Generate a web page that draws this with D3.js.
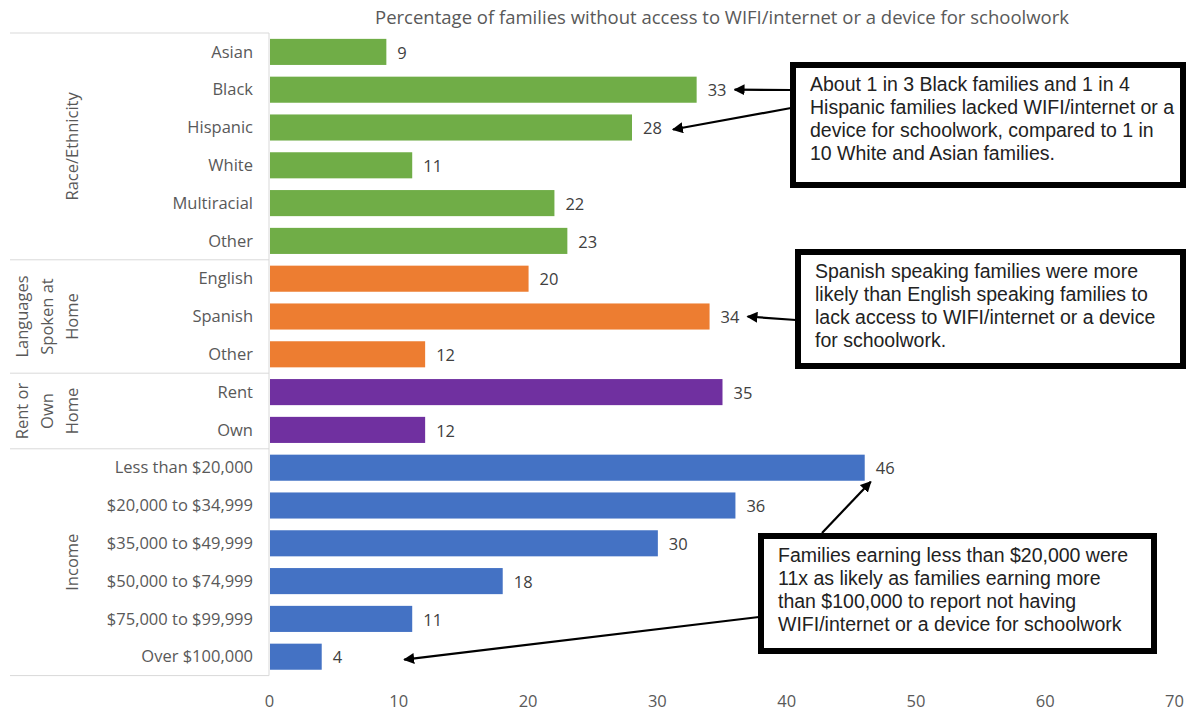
<!DOCTYPE html>
<html>
<head>
<meta charset="utf-8">
<script src="https://cdn.jsdelivr.net/npm/d3@7.9.0/dist/d3.min.js"></script>
<style>
  body { margin: 0; background: #fff; }
  svg text { font-family: 'Open Sans', sans-serif; }
  .note text { font-family: 'Liberation Sans', Arial, sans-serif; }
</style>
</head>
<body>
<svg id="chart" width="1189" height="715"></svg>
<script>
// data
const categories = ['Asian', 'Black', 'Hispanic', 'White', 'Multiracial', 'Other',
  'English', 'Spanish', 'Other ',
  'Rent', 'Own',
  'Less than $20,000', '$20,000 to $34,999', '$35,000 to $49,999', '$50,000 to $74,999', '$75,000 to $99,999', 'Over $100,000'];
const values = [9, 33, 28, 11, 22, 23, 20, 34, 12, 35, 12, 46, 36, 30, 18, 11, 4];
const groupLines = [['Race/Ethnicity'], ['Languages', 'Spoken at', 'Home'], ['Rent or', 'Own', 'Home'], ['Income']];
const groupSizes = [6, 3, 2, 6];
const groupColors = ['#70ad47', '#ed7d31', '#7030a0', '#4472c4'];
const xTicks = [0, 10, 20, 30, 40, 50, 60, 70];
const title = 'Percentage of families without access to WIFI/internet or a device for schoolwork';

// annotation boxes, outer edges [left, top, right, bottom]
const notes = [
  { lines: ['About 1 in 3 Black families and 1 in 4', 'Hispanic families lacked WIFI/internet or a',
            'device for schoolwork, compared to 1 in', '10 White and Asian families.'],
    box: [790, 62, 1186, 188] },
  { lines: ['Spanish speaking families were more', 'likely than English speaking families to',
            'lack access to WIFI/internet or a device', 'for schoolwork.'],
    box: [795, 249, 1186, 369] },
  { lines: ['Families earning less than $20,000 were', '11x as likely as families earning more',
            'than $100,000 to report not having', 'WIFI/internet or a device for schoolwork'],
    box: [758, 533, 1157, 654] }
];

const svg = d3.select('#chart');
const margin = { left: 269, top: 33 };

// group of every bar
const groupOf = [];
groupSizes.forEach((n, g) => { for (let i = 0; i < n; i++) groupOf.push(g); });

const x = d3.scaleLinear().domain([0, 70]).range([269, 1174]);
const y = d3.scaleBand().domain(categories).range([33, 33 + 37.8 * categories.length]).paddingInner(0.31).paddingOuter(0.155);

// title
svg.append('text')
  .attr('x', 722).attr('y', 24)
  .attr('text-anchor', 'middle')
  .attr('fill', '#595959')
  .style('font-size', '18.5px')
  .text(title);

// x axis labels
const xAxis = svg.append('g')
  .attr('transform', `translate(0,${y.range()[1] + 10})`)
  .call(d3.axisBottom(x).tickValues(xTicks).tickSize(0).tickPadding(10));
xAxis.select('.domain').remove();
xAxis.selectAll('text')
  .attr('fill', '#595959')
  .style('font-size', '16.5px')
  .style('font-family', "'Open Sans', sans-serif");

// category axis frame
const bottom = y.range()[1];
svg.append('line')
  .attr('x1', margin.left).attr('x2', margin.left)
  .attr('y1', margin.top).attr('y2', bottom)
  .attr('stroke', '#d9d9d9');

let start = 0;
const bounds = [0];
groupSizes.forEach(n => { start += n; bounds.push(start); });
const edge = b => b === 0 ? margin.top
  : (b === categories.length ? bottom : y(categories[b]) - y.step() * y.paddingInner() / 2);
bounds.forEach(b => {
  svg.append('line')
    .attr('x1', 10).attr('x2', margin.left)
    .attr('y1', edge(b)).attr('y2', edge(b))
    .attr('stroke', '#d9d9d9');
});

// group labels (rotated)
groupLines.forEach((lines, g) => {
  const cy = (edge(bounds[g]) + edge(bounds[g + 1])) / 2;
  lines.forEach((t, i) => {
    const cx = 72 - (lines.length - 1 - i) * 25;
    svg.append('text')
      .attr('transform', `translate(${cx},${cy}) rotate(-90)`)
      .attr('text-anchor', 'middle')
      .attr('dy', '0.35em')
      .attr('fill', '#595959')
      .style('font-size', '16.5px')
      .text(t);
  });
});

// category labels
svg.append('g').selectAll('text')
  .data(categories)
  .join('text')
  .attr('x', 253)
  .attr('y', d => y(d) + y.bandwidth() / 2)
  .attr('dy', '0.35em')
  .attr('text-anchor', 'end')
  .attr('fill', '#595959')
  .style('font-size', '16.5px')
  .text(d => d.trim());

// bars
svg.append('g').selectAll('rect')
  .data(values)
  .join('rect')
  .attr('x', x(0) + 1)
  .attr('y', (d, i) => y(categories[i]))
  .attr('width', d => x(d) - x(0))
  .attr('height', y.bandwidth())
  .attr('fill', (d, i) => groupColors[groupOf[i]]);

// value labels
svg.append('g').selectAll('text')
  .data(values)
  .join('text')
  .attr('x', d => x(d) + 12)
  .attr('y', (d, i) => y(categories[i]) + y.bandwidth() / 2)
  .attr('dy', '0.4em')
  .attr('fill', '#404040')
  .style('font-size', '16.5px')
  .text(d => d);

// arrows
svg.append('defs').append('marker')
  .attr('id', 'head')
  .attr('viewBox', '0 0 10 10')
  .attr('refX', 9).attr('refY', 5)
  .attr('markerWidth', 5).attr('markerHeight', 5)
  .attr('orient', 'auto')
  .append('path')
  .attr('d', 'M0,0 L10,5 L0,10 Z')
  .attr('fill', '#000');

const mid = i => y(categories[i]) + y.bandwidth() / 2;
const arrows = [
  [791, 90, x(values[1]) + 39, mid(1)],
  [791, 108, x(values[2]) + 42, mid(2) + 2],
  [796, 320, x(values[7]) + 39, mid(7)],
  [822, 533, x(values[11]) + 7, mid(11) + 14],
  [759, 617, x(10) + 6, mid(16) + 3]
];
svg.append('g').selectAll('line')
  .data(arrows)
  .join('line')
  .attr('x1', d => d[0]).attr('y1', d => d[1])
  .attr('x2', d => d[2]).attr('y2', d => d[3])
  .attr('stroke', '#000')
  .attr('stroke-width', 2.2)
  .attr('marker-end', 'url(#head)');

// annotation boxes
notes.forEach(n => {
  const g = svg.append('g').attr('class', 'note');
  const [l, t, r, b] = n.box;
  g.append('rect')
    .attr('x', l + 3).attr('y', t + 3)
    .attr('width', r - l - 6).attr('height', b - t - 6)
    .attr('fill', '#fff')
    .attr('stroke', '#000')
    .attr('stroke-width', 6);
  n.lines.forEach((s, i) => {
    g.append('text')
      .attr('x', l + 20)
      .attr('y', t + 28.5 + i * 23.3)
      .attr('fill', '#222')
      .style('font-size', '19.5px')
      .text(s);
  });
});
</script>
</body>
</html>
